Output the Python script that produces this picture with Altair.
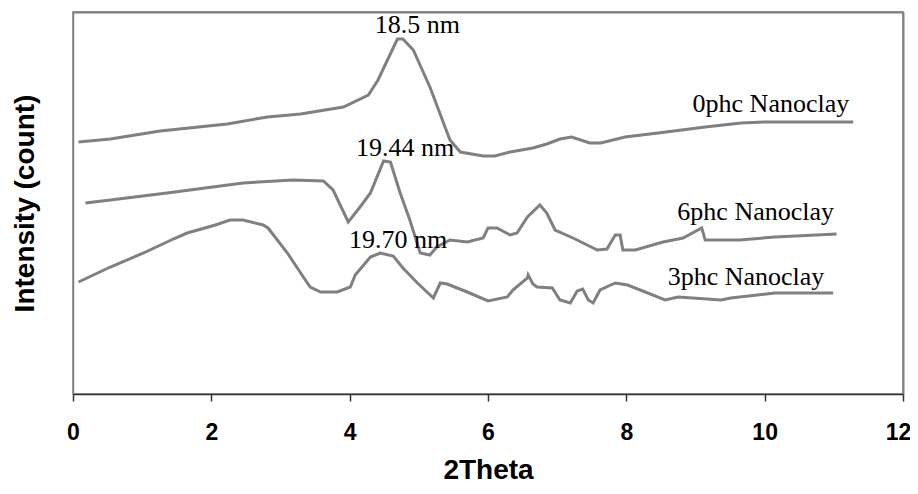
import altair as alt
import pandas as pd

# 0phc Nanoclay (top curve)
x_0phc = [0.08, 0.54, 1.26, 2.23, 2.81, 3.29, 3.91, 4.27, 4.41, 4.69, 4.77, 4.92, 5.16, 5.45,
          5.60, 5.93, 6.10, 6.32, 6.65, 6.85, 7.04, 7.21, 7.47, 7.63, 7.98, 8.46, 9.14, 9.66,
          10.0, 11.28]
y_0phc = [252, 255, 263, 270, 277, 280, 287, 299, 314, 355, 355, 344, 307, 254,
          242, 238, 238, 242, 246, 250, 255, 257, 251, 251, 257, 261, 267, 271,
          272, 272]

# 6phc Nanoclay (middle curve)
x_6phc = [0.18, 0.54, 1.36, 2.46, 3.18, 3.62, 3.76, 3.98, 4.15, 4.30, 4.49, 4.59, 4.73, 4.87,
          5.02, 5.16, 5.26, 5.45, 5.70, 5.93, 6.00, 6.13, 6.32, 6.42, 6.57, 6.75, 6.85, 6.97,
          7.23, 7.58, 7.72, 7.84, 7.91, 7.95, 8.13, 8.53, 8.82, 9.09, 9.14, 9.64, 10.15, 11.04]
y_6phc = [191, 194, 201, 211, 214, 213, 204, 172, 187, 201, 233, 232, 201, 174,
          141, 139, 147, 154, 152, 156, 166, 166, 159, 161, 177, 189, 181, 164,
          156, 144, 145, 159, 159, 144, 144, 152, 156, 166, 154, 154, 157, 160]

# 3phc Nanoclay (bottom curve)
x_3phc = [0.08, 0.54, 1.02, 1.45, 1.65, 2.06, 2.27, 2.46, 2.75, 2.82, 3.10, 3.33, 3.43, 3.58,
          3.82, 4.01, 4.08, 4.30, 4.44, 4.63, 4.77, 4.98, 5.21, 5.31, 5.41, 5.70, 6.00, 6.28,
          6.36, 6.57, 6.58, 6.65, 6.71, 6.93, 7.04, 7.19, 7.29, 7.37, 7.45, 7.52, 7.62, 7.84,
          8.02, 8.56, 8.75, 9.37, 9.51, 10.15, 10.99]
y_3phc = [112, 127, 141, 155, 161, 169, 174, 174, 169, 166, 141, 117, 107, 102,
          102, 107, 119, 137, 141, 138, 126, 111, 96, 111, 110, 102, 93, 97,
          104, 116, 119, 110, 107, 106, 94, 91, 103, 105, 94, 91, 104, 111,
          109, 94, 97, 94, 96, 101, 101]

series_names = ["0phc Nanoclay", "6phc Nanoclay", "3phc Nanoclay"]

label_text = ["18.5 nm", "19.44 nm", "19.70 nm", "0phc Nanoclay", "6phc Nanoclay", "3phc Nanoclay"]
label_x = [4.98, 4.80, 4.70, 10.09, 9.87, 9.73]
label_y = [361, 238, 146, 282, 174, 109]

x_ticks = [0, 2, 4, 6, 8, 10, 12]

rows = []
for name, xs, ys in zip(series_names, [x_0phc, x_6phc, x_3phc], [y_0phc, y_6phc, y_3phc]):
    for i, (a, b) in enumerate(zip(xs, ys)):
        rows.append({"series": name, "theta": a, "intensity": b, "order": i})
df = pd.DataFrame(rows)

labels = pd.DataFrame({"text": label_text, "theta": label_x, "intensity": label_y})

x_scale = alt.Scale(domain=[0, 12], nice=False, zero=False)
y_scale = alt.Scale(domain=[0, 382], nice=False, zero=False)

x_axis = alt.Axis(
    title="2Theta", values=x_ticks, format="d", grid=False, zindex=1,
    domainColor="#333333", domainWidth=1.5, tickColor="#333333", tickWidth=1.5, tickSize=7,
    labelFont="Liberation Sans", labelFontSize=23, labelFontWeight="bold", labelColor="black",
    labelBaseline="alphabetic", labelPadding=38, labelFlush=False,
    labelOffset={"condition": {"test": "datum.value == 12", "value": -5}, "value": 0},
    titleFont="Liberation Sans", titleFontSize=28, titleFontWeight="bold", titleColor="black",
    titleX=415, titleY=84, titleAlign="center", titleBaseline="alphabetic",
)
y_axis = alt.Axis(
    title="Intensity (count)", labels=False, ticks=False, grid=False,
    domainColor="#808080", domainWidth=1.5,
    titleFont="Liberation Sans", titleFontSize=28, titleFontWeight="bold", titleColor="black",
    titleX=-48, titleY=191, titleAngle=270, titleAlign="center", titleBaseline="middle",
)

# top and right frame lines of the plot area, as plain axis domains
top_axis = alt.Axis(orient="top", labels=False, ticks=False, grid=False, title="",
                    domainColor="#808080", domainWidth=2)
right_axis = alt.Axis(orient="right", labels=False, ticks=False, grid=False, title="",
                      domainColor="#808080", domainWidth=2)

lines = alt.Chart(df).mark_line(color="#808080", strokeWidth=3).encode(
    x=alt.X("theta:Q", scale=x_scale, axis=x_axis),
    y=alt.Y("intensity:Q", scale=y_scale, axis=y_axis),
    detail="series:N",
    order="order:Q",
)

frame = alt.Chart(df).mark_point(opacity=0).encode(
    x=alt.X("theta:Q", scale=x_scale, axis=top_axis),
    y=alt.Y("intensity:Q", scale=y_scale, axis=right_axis),
)

texts = alt.Chart(labels).mark_text(
    font="Liberation Serif", fontSize=26, color="black", align="center", baseline="alphabetic"
).encode(
    x=alt.X("theta:Q", scale=x_scale, axis=None),
    y=alt.Y("intensity:Q", scale=y_scale, axis=None),
    text="text:N",
)

chart = alt.layer(lines, frame, texts).resolve_axis(x="independent", y="independent").properties(
    width=830, height=382,
    autosize=alt.AutoSizeParams(type="none"),
    padding={"left": 65, "top": 4, "right": 7, "bottom": 90},
).configure_view(stroke="#808080", strokeWidth=1.5)

chart.save("out.html", embed_options={"renderer": "svg", "actions": False})
